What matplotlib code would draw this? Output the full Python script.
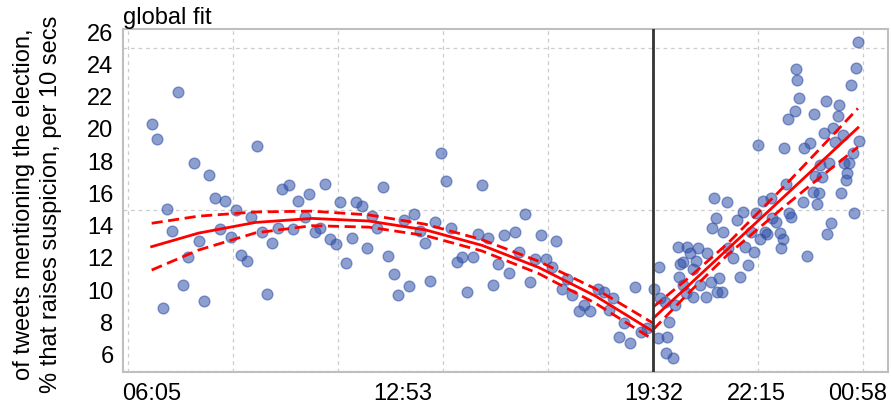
import matplotlib
matplotlib.use('agg')
import matplotlib.pyplot as plt
from matplotlib.ticker import FixedLocator, NullFormatter
import numpy as np

plt.rcParams['font.family'] = ['Liberation Sans', 'DejaVu Sans']

# time of day in hours (values past 24 are after midnight)
hours = [6.26, 6.41, 6.55, 6.66, 6.81, 6.96, 7.09, 7.23, 7.38, 7.51, 7.65, 7.78, 7.93, 8.07, 8.20,
         8.35, 8.49, 8.61, 8.77, 8.90, 9.04, 9.17, 9.30, 9.45, 9.61, 9.72, 9.88, 9.99, 10.14, 10.31,
         10.43, 10.58, 10.71, 10.84, 10.98, 11.13, 11.25, 11.40, 11.55, 11.66, 11.81, 11.96, 12.09, 12.23, 12.37,
         12.52, 12.67, 12.78, 12.93, 13.07, 13.21, 13.36, 13.49, 13.62, 13.75, 13.90, 14.04, 14.19, 14.33, 14.46,
         14.61, 14.75, 14.88, 15.00, 15.16, 15.30, 15.43, 15.58, 15.72, 15.86, 15.97, 16.13, 16.27, 16.40, 16.55,
         16.68, 16.84, 16.95, 17.11, 17.24, 17.39, 17.55, 17.70, 17.85, 18.07, 18.22, 18.36, 18.47, 18.63, 18.76,
         18.91, 19.04, 19.20, 19.35,
         19.55, 19.69, 19.71, 19.84, 19.94, 19.90, 19.66, 19.86, 20.04, 20.17, 20.22, 20.10, 20.23, 20.31, 20.32,
         20.39, 20.43, 20.50, 20.57, 20.59, 20.66, 20.72, 20.76, 20.92, 20.94, 21.06, 21.07, 21.19, 21.21, 21.27,
         21.34, 21.36, 21.47, 21.51, 21.64, 21.75, 21.82, 21.89, 21.95, 22.04, 22.10, 22.19, 22.25, 22.35, 22.42,
         22.48, 22.53, 22.66, 22.77, 22.88, 22.91, 22.95, 23.13, 23.16, 23.48, 23.60, 23.87, 24.13, 24.22, 24.84,
         21.13, 22.29, 22.63, 22.99, 23.04, 23.28, 23.08, 23.30, 23.34, 23.38, 23.52, 23.66, 23.76, 23.79, 23.81,
         23.92, 23.98, 23.94, 24.04, 24.09, 24.18, 24.29, 24.33, 24.40, 24.44, 24.49, 24.54, 24.56, 24.62, 24.64,
         24.71, 24.75, 24.80, 24.88, 24.93, 24.98]
pct = [20.30, 19.36, 8.92, 15.03, 13.69, 22.29, 10.32, 12.08, 17.90, 13.07, 9.33, 17.14, 15.73, 13.78, 15.53,
       13.28, 14.97, 12.18, 11.81, 14.56, 18.96, 13.63, 9.75, 12.94, 13.84, 16.26, 16.50, 13.78, 15.56, 14.56,
       15.96, 13.63, 13.84, 16.57, 13.16, 12.85, 15.47, 11.67, 13.26, 15.44, 15.22, 12.63, 14.62, 13.84, 16.40,
       12.12, 11.00, 9.70, 14.35, 10.28, 14.71, 13.69, 12.94, 10.59, 14.21, 18.52, 16.77, 13.87, 11.77, 12.04,
       9.89, 12.04, 13.47, 16.50, 13.26, 10.32, 11.62, 13.42, 11.08, 13.59, 12.39, 14.71, 10.53, 11.95, 13.42,
       11.95, 11.46, 13.05, 10.06, 10.69, 9.70, 8.71, 9.11, 8.74, 10.06, 9.91, 8.77, 9.50, 7.08, 7.99,
       6.75, 10.22, 7.43, 7.64,
       10.06, 11.42, 9.50, 9.29, 8.05, 7.08, 7.02, 6.09, 5.78, 12.70, 10.80, 9.08, 11.62, 11.77, 10.32,
       9.81, 12.70, 12.29, 11.30, 9.60, 11.81, 12.60, 10.32, 9.60, 12.29, 10.53, 13.84, 14.46, 9.91, 10.74,
       9.91, 13.63, 15.49, 12.60, 11.98, 14.35, 10.84, 14.87, 12.70, 11.56, 13.63, 12.39, 14.77, 13.16, 15.53,
       13.63, 13.48, 14.46, 14.25, 13.53, 12.60, 13.16, 14.80, 14.56, 15.49, 12.12, 15.34, 13.48, 14.15, 14.77,
       15.70, 19.00, 15.73, 18.83, 16.57, 21.11, 20.61, 23.71, 23.03, 21.90, 18.80, 19.14, 16.11, 20.92, 17.08,
       16.01, 17.04, 17.76, 19.76, 21.73, 17.90, 20.04, 19.21, 20.80, 21.48, 16.01, 19.62, 17.87, 16.83, 17.25,
       17.87, 22.72, 18.52, 23.76, 25.39, 19.27]

# fitted curve before the break, with its confidence band
fit_h_before = [6.26, 7.5, 9.0, 10.5, 12.0, 13.5, 15.0, 16.5, 18.0, 19.53]
fit_before = [12.70, 13.54, 14.20, 14.45, 14.29, 13.74, 12.78, 11.41, 9.64, 7.43]
upper_before = [14.15, 14.59, 14.85, 14.90, 14.67, 14.09, 13.13, 11.79, 10.09, 7.95]
lower_before = [11.25, 12.49, 13.55, 14.00, 13.91, 13.39, 12.43, 11.03, 9.19, 6.93]

# fitted line after the break
fit_h_after = [19.53, 20.5, 21.5, 23.0, 24.0, 24.94]
fit_after = [8.27, 10.38, 12.56, 15.83, 18.02, 20.07]
upper_after = [8.97, 10.84, 12.91, 16.46, 18.93, 21.27]
lower_after = [7.57, 9.92, 12.21, 15.20, 17.11, 18.87]

break_h = 19.53
tick_h = [6.26, 12.91, 19.55, 22.26, 24.94]
tick_labels = ['06:05', '12:53', '19:32', '22:15', '00:58']

fig = plt.figure(figsize=(8.91, 4.07), dpi=100)
ax = fig.add_axes([0.1384, 0.0867, 0.858, 0.8413])

ax.scatter(hours, pct, s=60, color='#3050a8', alpha=0.55, linewidths=1, zorder=3)

red = '#ff0000'
for xs, mid, up, lo in [(fit_h_before, fit_before, upper_before, lower_before),
                        (fit_h_after, fit_after, upper_after, lower_after)]:
    ax.plot(xs, mid, color=red, lw=2, zorder=4)
    ax.plot(xs, up, color=red, lw=2, ls=(0, (4, 2)), zorder=4)
    ax.plot(xs, lo, color=red, lw=2, ls=(0, (4, 2)), zorder=4)

ax.axvline(break_h, color='#333333', lw=2, zorder=5)

ax.set_xlim(5.51, 25.73)
ax.set_ylim(4.95, 26.17)
ax.set_xticks(tick_h)
ax.set_xticklabels(tick_labels)
ax.set_yticks(range(6, 27, 2))
ax.xaxis.set_minor_locator(FixedLocator(np.arange(5.64, 26, 2.778)))
ax.yaxis.set_minor_locator(FixedLocator([5, 10, 15, 20, 25]))
ax.xaxis.set_minor_formatter(NullFormatter())
ax.yaxis.set_minor_formatter(NullFormatter())
ax.grid(False, which='major')
ax.grid(True, which='minor', color='#cccccc', ls=(0, (3, 3)), lw=0.9)
ax.set_axisbelow(True)
ax.tick_params(which='both', length=0, labelsize=17)
ax.tick_params(axis='y', pad=7)
ax.tick_params(axis='x', pad=8)
for sp in ax.spines.values():
    sp.set_color('#bfbfbf')
    sp.set_linewidth(1.5)

ax.set_title('global fit', loc='left', fontsize=17, pad=3)
fig.text(0.042, 0.497, 'of tweets mentioning the election,\n% that raises suspicion, per 10 secs',
         rotation=90, ha='center', va='center', multialignment='center', fontsize=17, linespacing=1.3)

fig.savefig('out.png', dpi=100)
